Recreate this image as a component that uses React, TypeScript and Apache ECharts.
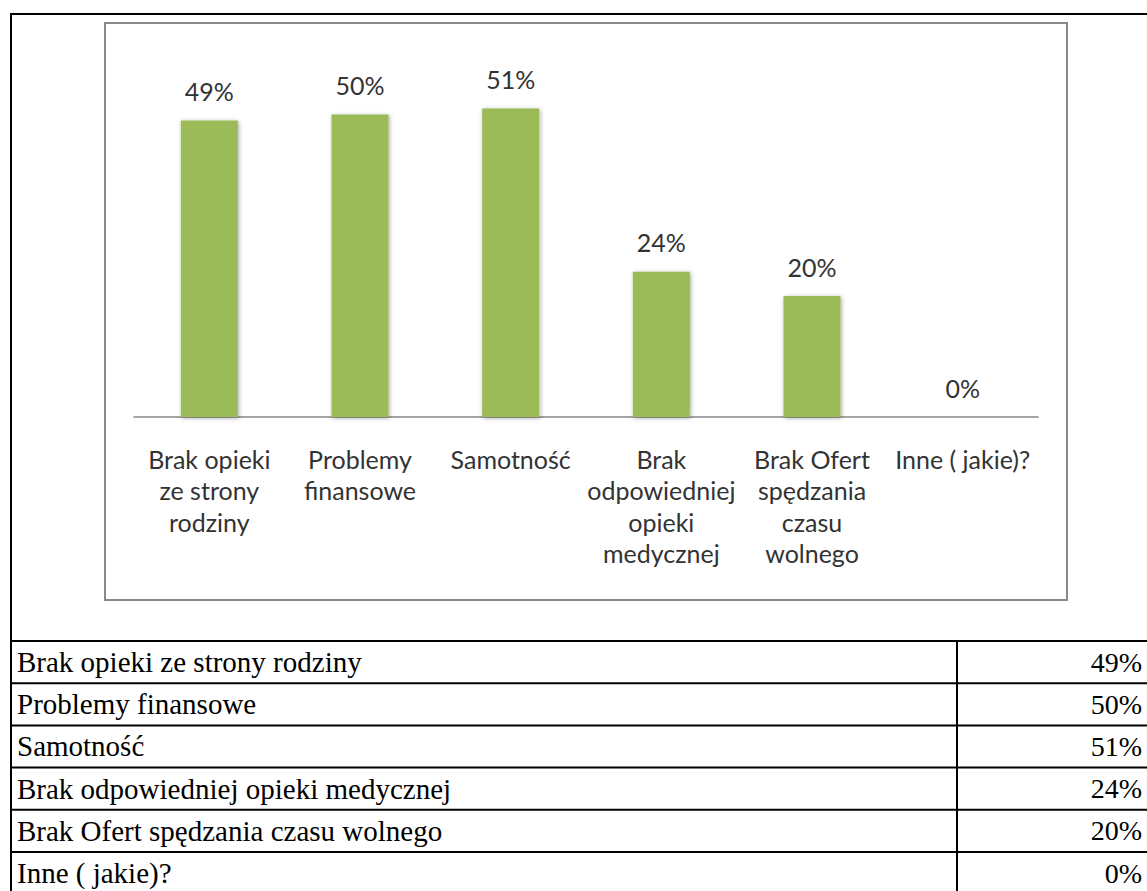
import React, { useEffect, useRef } from "react";
import * as echarts from "echarts";

const categories = [
  "Brak opieki ze strony rodziny",
  "Problemy finansowe",
  "Samotność",
  "Brak odpowiedniej opieki medycznej",
  "Brak Ofert spędzania czasu wolnego",
  "Inne ( jakie)?",
];
const axisLabels = [
  "Brak opieki\nze strony\nrodziny",
  "Problemy\nfinansowe",
  "Samotność",
  "Brak\nodpowiedniej\nopieki\nmedycznej",
  "Brak Ofert\nspędzania\nczasu\nwolnego",
  "Inne ( jakie)?",
];
const values = [49, 50, 51, 24, 20, 0];

export default function App() {
  const ref = useRef<HTMLDivElement>(null);
  useEffect(() => {
    if (!ref.current) return;
    const chart = echarts.init(ref.current, null, { renderer: "svg" });
    const tableTop = 641;
    const rowH = 42.2;
    const black = "#000";
    const g: any[] = [];
    // outer frame
    g.push({ type: "line", shape: { x1: 11, y1: 14, x2: 1147, y2: 14 }, style: { stroke: black, lineWidth: 2 } });
    g.push({ type: "line", shape: { x1: 11, y1: 13, x2: 11, y2: 891 }, style: { stroke: black, lineWidth: 2 } });
    // chart frame
    g.push({ type: "rect", shape: { x: 105, y: 23, width: 962, height: 577 }, style: { fill: "none", stroke: "#898989", lineWidth: 2 } });
    // table
    for (let i = 0; i <= categories.length; i++) {
      const y = tableTop + i * rowH;
      g.push({ type: "line", shape: { x1: 10, y1: y, x2: 1147, y2: y }, style: { stroke: black, lineWidth: 2 } });
    }
    g.push({ type: "line", shape: { x1: 957, y1: tableTop, x2: 957, y2: 891 }, style: { stroke: black, lineWidth: 2 } });
    categories.forEach((c, i) => {
      const cy = tableTop + i * rowH + 21;
      g.push({ type: "text", x: 17, y: cy, style: { text: c, fill: black, font: "29px 'Liberation Serif'", textAlign: "left", textVerticalAlign: "middle" } });
      g.push({ type: "text", x: 1142, y: cy, style: { text: values[i] + "%", fill: black, font: "28px 'Liberation Serif'", textAlign: "right", textVerticalAlign: "middle" } });
    });

    chart.setOption({
      animation: false,
      backgroundColor: "#fff",
      grid: { left: 134, top: 54, width: 904, height: 363 },
      xAxis: {
        type: "category",
        data: categories,
        axisLine: { lineStyle: { color: "#868686", width: 1.5 } },
        axisTick: { show: false },
        axisLabel: {
          interval: 0,
          margin: 26,
          color: "#333",
          fontFamily: "Lato",
          fontSize: 25,
          lineHeight: 31.5,
          formatter: (_v: string, i: number) => axisLabels[i],
        },
      },
      yAxis: { type: "value", min: 0, max: 60, show: false, splitLine: { show: false } },
      series: [
        {
          type: "bar",
          data: values,
          barWidth: 57,
          itemStyle: {
            color: "#9BBB59",
            shadowBlur: 4,
            shadowColor: "rgba(0,0,0,0.35)",
            shadowOffsetX: 1,
            shadowOffsetY: 1,
          },
          label: {
            show: true,
            position: "top",
            distance: 17,
            color: "#333",
            fontFamily: "Lato",
            fontSize: 25,
            formatter: (p: any) => p.value + "%",
          },
        },
      ],
      graphic: g,
    });
    return () => chart.dispose();
  }, []);
  return <div ref={ref} style={{ position: "absolute", left: 0, top: 0, width: 1147, height: 891 }} />;
}
